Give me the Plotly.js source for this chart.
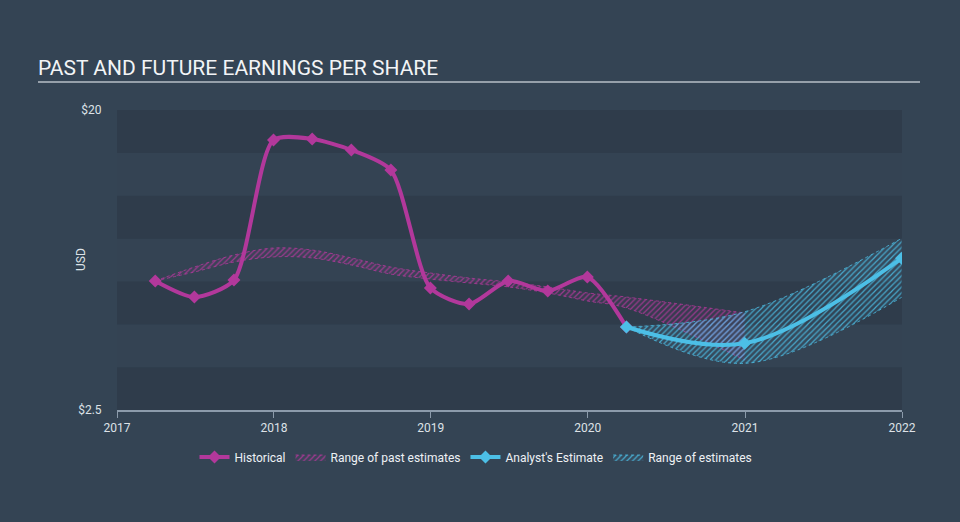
<!DOCTYPE html>
<html>
<head>
<meta charset="utf-8">
<script src="https://cdn.plot.ly/plotly-3.0.1.min.js"></script>
<style>
html,body{margin:0;padding:0;background:#344454;}
#chart{width:960px;height:522px;}
</style>
</head>
<body>
<div id="chart"></div>
<script>
// ---- data ----
const histDates = ["2017-03-31","2017-06-30","2017-09-30","2017-12-31","2018-03-31","2018-06-30","2018-09-30","2018-12-31","2019-03-31","2019-06-30","2019-09-30","2019-12-31","2020-03-31"];
const histEPS   = [10.03, 9.09, 10.08, 18.25, 18.31, 17.67, 16.5, 9.62, 8.68, 10.03, 9.44, 10.26, 7.34];

const pastRangeDates = ["2017-03-31","2017-06-30","2017-09-30","2017-12-31","2018-03-31","2018-06-30","2018-09-30","2018-12-31","2019-03-31","2019-06-30","2019-09-30","2019-12-31","2020-03-31","2020-12-31"];
const pastRangeHigh  = [10.03, 10.84, 11.54, 11.95, 11.83, 11.37, 10.84, 10.49, 10.20, 9.97, 9.68, 9.33, 9.09, 8.16];
const pastRangeLow   = [10.03, 10.55, 11.13, 11.43, 11.37, 10.96, 10.43, 10.14, 9.91, 9.68, 9.33, 8.86, 8.45, 5.42];

const estDates = ["2020-03-31","2020-12-31","2021-12-31"];
const estEPS   = [7.34, 6.39, 11.35];
const estHigh  = [7.34, 8.23, 12.51];
const estLow   = [7.34, 5.22, 9.07];

const yearTicks = ["2017-01-01","2018-01-01","2019-01-01","2020-01-01","2021-01-01","2022-01-01"];
const yearLabels = ["2017","2018","2019","2020","2021","2022"];
const yTickVals = [2.5, 20];
const yTickText = ["$2.5", "$20"];
const bandEdges = [2.5, 5, 7.5, 10, 12.5, 15, 17.5, 20];

// ---- styles ----
const MAG = "#b2389b";
const CYAN = "#4cbfe6";
const PAPER = "#344454";
const DARK = "#2f3c4b";
const LIGHT = "#344353";

const traces = [
  {x: pastRangeDates, y: pastRangeLow, mode: "lines", type: "scatter",
   line: {color: "rgba(178,56,155,0.8)", width: 1, dash: "dot", shape: "spline"},
   showlegend: false, hoverinfo: "skip"},
  {x: pastRangeDates, y: pastRangeHigh, mode: "lines", type: "scatter", name: "Range of past estimates",
   fill: "tonexty", fillcolor: "rgba(178,56,155,0.08)",
   fillpattern: {shape: "/", fgcolor: "rgba(178,56,155,0.8)", bgcolor: "rgba(178,56,155,0.06)", size: 4, solidity: 0.3},
   line: {color: "rgba(178,56,155,0.8)", width: 1, dash: "dot", shape: "spline"},
   legendrank: 2},
  {x: estDates, y: estLow, mode: "lines", type: "scatter",
   line: {color: "rgba(76,191,230,0.8)", width: 1, dash: "dot", shape: "spline"},
   showlegend: false, hoverinfo: "skip"},
  {x: estDates, y: estHigh, mode: "lines", type: "scatter", name: "Range of estimates",
   fill: "tonexty", fillcolor: "rgba(76,191,230,0.08)",
   fillpattern: {shape: "/", fgcolor: "rgba(76,191,230,0.8)", bgcolor: "rgba(76,191,230,0.06)", size: 4, solidity: 0.3},
   line: {color: "rgba(76,191,230,0.8)", width: 1, dash: "dot", shape: "spline"},
   legendrank: 4},
  {x: histDates, y: histEPS, mode: "lines+markers", type: "scatter", name: "Historical",
   line: {color: MAG, width: 4, shape: "spline", smoothing: 0.7},
   marker: {symbol: "diamond", size: 10, color: MAG},
   legendrank: 1},
  {x: estDates, y: estEPS, mode: "lines+markers", type: "scatter", name: "Analyst's Estimate",
   line: {color: CYAN, width: 4, shape: "spline"},
   marker: {symbol: "diamond", size: 10, color: CYAN},
   legendrank: 3}
];

const shapes = [];
for (let i = 0; i < bandEdges.length - 1; i++) {
  shapes.push({type: "rect", xref: "paper", yref: "y", x0: 0, x1: 1,
    y0: bandEdges[i], y1: bandEdges[i+1], line: {width: 0},
    fillcolor: (i % 2 === 0) ? DARK : LIGHT, layer: "below"});
}
shapes.push({type: "line", xref: "paper", yref: "paper",
  x0: (38-117)/785, x1: (920-117)/785, y0: (410-82)/300, y1: (410-82)/300,
  line: {color: "#b7bfc7", width: 1.5}});

const layout = {
  width: 960, height: 522,
  paper_bgcolor: PAPER, plot_bgcolor: DARK,
  margin: {l: 117, r: 58, t: 110, b: 112},
  font: {family: "Roboto, 'Open Sans', sans-serif", color: "#dde2e7", size: 12},
  title: {text: "PAST AND FUTURE EARNINGS PER SHARE", xref: "container", yref: "container",
    x: 38/960, xanchor: "left", y: 1 - 68/522, yanchor: "middle",
    font: {size: 21, color: "#f2f4f6", family: "Roboto, sans-serif"}},
  xaxis: {type: "date", range: ["2017-01-01","2022-01-01"],
    tickmode: "array", tickvals: yearTicks, ticktext: yearLabels,
    ticks: "outside", ticklen: 6, tickcolor: "#8c9bab", tickwidth: 1,
    showline: true, linecolor: "#8c9bab", linewidth: 1.5,
    showgrid: false, zeroline: false, fixedrange: true,
    tickfont: {size: 12, color: "#dde2e7"}},
  yaxis: {range: [2.5, 20], tickmode: "array", tickvals: yTickVals, ticktext: yTickText,
    ticks: "outside", ticklen: 12, tickcolor: "rgba(0,0,0,0)",
    showline: false, showgrid: false, zeroline: false, fixedrange: true,
    tickfont: {size: 12, color: "#dde2e7"}},
  shapes: shapes,
  annotations: [{text: "USD", xref: "paper", yref: "paper", x: (72-117)/785, y: 0.5,
    textangle: -90, showarrow: false, font: {size: 12, color: "#dde2e7"}}],
  legend: {orientation: "h", x: (476-117)/785, xanchor: "center", y: (410-457)/300, yanchor: "middle",
    font: {size: 12, color: "#eef1f4"}, bgcolor: "rgba(0,0,0,0)", itemwidth: 30, traceorder: "normal"},
  showlegend: true
};

Plotly.newPlot("chart", traces, layout, {displayModeBar: false, staticPlot: true});
</script>
</body>
</html>
